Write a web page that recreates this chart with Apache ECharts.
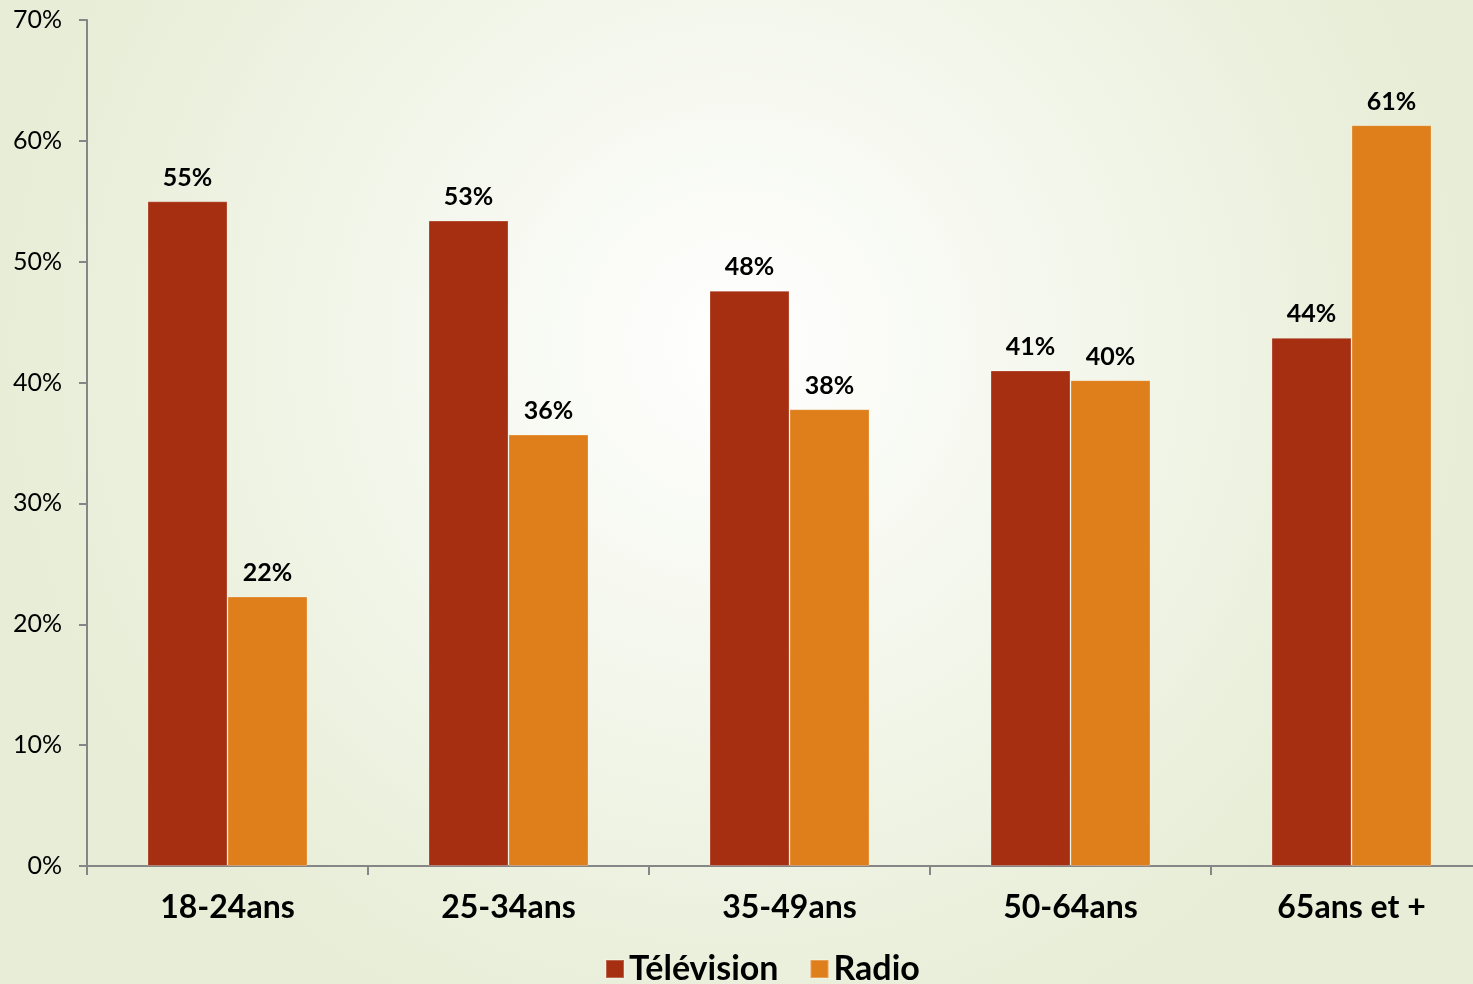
<!DOCTYPE html>
<html><head><meta charset="utf-8">
<script src="https://cdn.jsdelivr.net/npm/echarts@6/dist/echarts.min.js"></script>
<style>html,body{margin:0;padding:0;}#c{width:1473px;height:984px;}</style>
</head><body><div id="c"></div>
<script>
const categories = ['18-24ans', '25-34ans', '35-49ans', '50-64ans', '65ans et +'];
const television = [55.0, 53.4, 47.6, 41.0, 43.7];
const radio = [22.3, 35.7, 37.8, 40.2, 61.3];
const yTicks = [0, 10, 20, 30, 40, 50, 60, 70];

const chart = echarts.init(document.getElementById('c'));
const lbl = {
  show: true, position: 'top', distance: 11,
  fontFamily: 'Lato', fontWeight: 'bold', fontSize: 25, color: '#000',
  formatter: p => Math.round(p.value) + '%'
};
chart.setOption({
  backgroundColor: {
    type: 'radial', x: 0.5, y: 0.35, r: 0.75,
    colorStops: [{offset: 0, color: '#ffffff'}, {offset: 1, color: '#e7edd6'}]
  },
  animation: false,
  grid: {left: 87, width: 1405, top: 20, bottom: 118, containLabel: false, outerBoundsMode: 'none'},
  legend: {
    bottom: -7, left: 600, itemWidth: 18, itemHeight: 18, itemGap: 31,
    icon: 'rect',
    textStyle: {fontFamily: 'Lato', fontWeight: 'bold', fontSize: 34, color: '#000'},
    data: ['Télévision', 'Radio']
  },
  xAxis: {
    type: 'category', data: categories,
    axisLine: {lineStyle: {color: '#868686', width: 2}},
    axisTick: {show: true, length: 9, lineStyle: {color: '#868686', width: 2}},
    axisLabel: {fontFamily: 'Lato', fontWeight: 'bold', fontSize: 32, color: '#000', margin: 26}
  },
  yAxis: {
    type: 'value', min: yTicks[0], max: yTicks[yTicks.length - 1], interval: 10,
    axisLine: {show: true, lineStyle: {color: '#868686', width: 2}},
    axisTick: {show: true, length: 8, lineStyle: {color: '#868686', width: 2}},
    splitLine: {show: false},
    axisLabel: {fontFamily: 'Lato', fontSize: 25, color: '#000', margin: 25, formatter: v => v + '%'}
  },
  series: [
    {name: 'Télévision', type: 'bar', data: television, barWidth: 80, barGap: '0%',
     itemStyle: {color: '#A52F10', borderColor: 'rgba(255,255,255,0.25)', borderWidth: 1}, label: lbl},
    {name: 'Radio', type: 'bar', data: radio, barWidth: 80,
     itemStyle: {color: '#DF7F1B', borderColor: 'rgba(255,255,255,0.25)', borderWidth: 1}, label: lbl}
  ]
});
</script></body></html>
